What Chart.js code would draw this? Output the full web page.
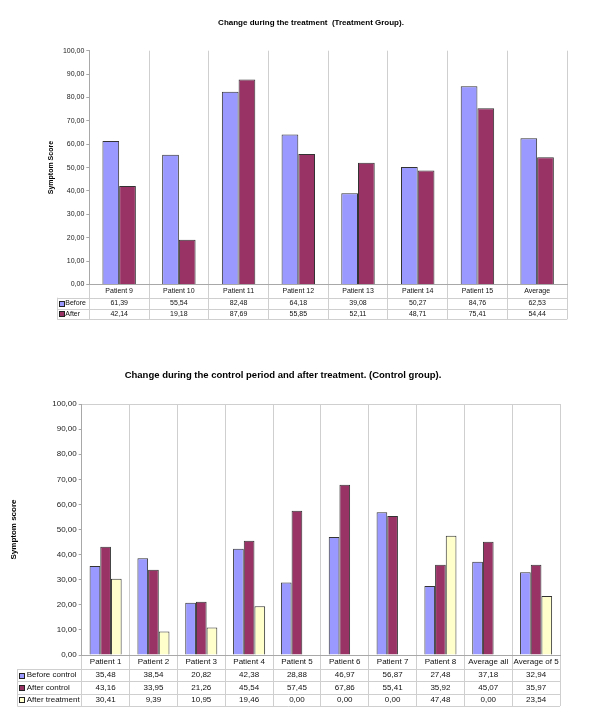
<!DOCTYPE html>
<html>
<head>
<meta charset="utf-8">
<script src="https://cdn.jsdelivr.net/npm/chart.js@4.4.1/dist/chart.umd.min.js"></script>
<style>
  body { margin: 0; background: #fff; }
  #topo { position: absolute; left: 0; top: 0; width: 600px; height: 330px; }
  #baixo { position: absolute; left: 0; top: 330px; width: 600px; height: 389px; }
</style>
</head>
<body>
<div id="topo"><canvas id="grafico-tratamento"></canvas></div>
<div id="baixo"><canvas id="grafico-controle"></canvas></div>
<script>
// dados do grupo de tratamento
const pacientesTratamento = ['Patient 9', 'Patient 10', 'Patient 11', 'Patient 12', 'Patient 13', 'Patient 14', 'Patient 15', 'Average'];
const antes = [61.39, 55.54, 82.48, 64.18, 39.08, 50.27, 84.76, 62.53];
const depois = [42.14, 19.18, 87.69, 55.85, 52.11, 48.71, 75.41, 54.44];

// dados do grupo controle
const pacientesControle = ['Patient 1', 'Patient 2', 'Patient 3', 'Patient 4', 'Patient 5', 'Patient 6', 'Patient 7', 'Patient 8', 'Average all', 'Average of 5'];
const antesControle = [35.48, 38.54, 20.82, 42.38, 28.88, 46.97, 56.87, 27.48, 37.18, 32.94];
const depoisControle = [43.16, 33.95, 21.26, 45.54, 57.45, 67.86, 55.41, 35.92, 45.07, 35.97];
const depoisTratamento = [30.41, 9.39, 10.95, 19.46, 0.00, 0.00, 0.00, 47.48, 0.00, 23.54];

// eixo y
const yMin = 0;
const yMax = 100;
const yPasso = 10;

const fonte = '"Liberation Sans", Arial, Helvetica, sans-serif';
const corLinha = '#cfcfcf';
const corEixo = '#a8a8a8';

function formatar(v) {
    return Number(v).toFixed(2).replace('.', ',');
}

// tabela de dados embaixo do gráfico (estilo Excel)
const tabela = {
    id: 'tabela',
    afterDraw(chart, args, opts) {
        const ctx = chart.ctx;
        const x = chart.scales.x;
        const area = chart.chartArea;
        const linhas = chart.data.datasets.length;
        const base = opts.top + linhas * opts.rowHeight;
        ctx.save();
        ctx.strokeStyle = corLinha;
        ctx.lineWidth = 1;
        for (let r = 0; r <= linhas; r++) {
            const y = Math.round(opts.top + r * opts.rowHeight) + 0.5;
            ctx.beginPath();
            ctx.moveTo(opts.left, y);
            ctx.lineTo(area.right, y);
            ctx.stroke();
        }
        ctx.beginPath();
        ctx.moveTo(Math.round(opts.left) + 0.5, opts.top);
        ctx.lineTo(Math.round(opts.left) + 0.5, base);
        ctx.stroke();

        ctx.font = opts.fontSize + 'px ' + fonte;
        ctx.textBaseline = 'middle';
        chart.data.datasets.forEach((ds, r) => {
            const yc = opts.top + (r + 0.5) * opts.rowHeight;
            const q = opts.keySize;
            const kx = Math.round(opts.left + 2) + 0.5;
            const ky = Math.round(yc - q / 2) + 0.5;
            ctx.fillStyle = ds.backgroundColor;
            ctx.fillRect(kx, ky, q, q);
            ctx.strokeStyle = '#222';
            ctx.strokeRect(kx, ky, q, q);
            ctx.fillStyle = '#111';
            ctx.textAlign = 'left';
            ctx.fillText(ds.label, opts.left + opts.textOffset, yc);
            ctx.textAlign = 'center';
            ds.data.forEach((v, i) => {
                ctx.fillText(formatar(v), x.getPixelForValue(i), yc);
            });
        });
        ctx.restore();
    }
};

const ctxTratamento = document.getElementById('grafico-tratamento').getContext('2d');
const graficoTratamento = new Chart(ctxTratamento, {
    type: 'bar',
    data: {
        labels: pacientesTratamento,
        datasets: [{
            label: 'Before',
            data: antes,
            backgroundColor: '#9999ff',
            borderColor: '#333333',
            borderWidth: 1
        }, {
            label: 'After',
            data: depois,
            backgroundColor: '#993366',
            borderColor: '#333333',
            borderWidth: 1
        }]
    },
    plugins: [tabela],
    options: {
        responsive: true,
        maintainAspectRatio: false,
        animation: false,
        categoryPercentage: 0.56,
        barPercentage: 1,
        layout: { padding: { left: 55, right: 33, top: 0, bottom: 0 } },
        plugins: {
            legend: { display: false },
            tooltip: { enabled: false },
            title: {
                display: true,
                text: 'Change during the treatment  (Treatment Group).',
                color: '#000',
                font: { family: fonte, size: 8, weight: 'bold' },
                padding: { top: 18.2, bottom: 22.9 }
            },
            tabela: { top: 297.7, rowHeight: 10.8, left: 57.3, fontSize: 7, keySize: 5, textOffset: 8 }
        },
        scales: {
            x: {
                offset: true,
                grid: { offset: true, color: corLinha, tickLength: 34.8 },
                border: { color: corEixo },
                ticks: { color: '#111', font: { family: fonte, size: 7 }, padding: -32.8, maxRotation: 0, autoSkip: false },
                afterFit: s => { s.height = 45.5; }
            },
            y: {
                min: yMin,
                max: yMax,
                ticks: { stepSize: yPasso, color: '#222', font: { family: fonte, size: 7 }, padding: 2, callback: v => formatar(v) },
                grid: { drawOnChartArea: false, tickLength: 3, color: corEixo },
                border: { color: corEixo },
                title: {
                    display: true,
                    text: 'Symptom Score',
                    color: '#000',
                    font: { family: fonte, size: 7, weight: 'bold' },
                    padding: { top: -8.5, bottom: 0 }
                },
                afterFit: s => { s.width = 34.3; }
            }
        }
    }
});

const ctxControle = document.getElementById('grafico-controle').getContext('2d');
const graficoControle = new Chart(ctxControle, {
    type: 'bar',
    data: {
        labels: pacientesControle,
        datasets: [{
            label: 'Before control',
            data: antesControle,
            backgroundColor: '#9999ff',
            borderColor: '#333333',
            borderWidth: 1
        }, {
            label: 'After control',
            data: depoisControle,
            backgroundColor: '#993366',
            borderColor: '#333333',
            borderWidth: 1
        }, {
            label: 'After treatment',
            data: depoisTratamento,
            backgroundColor: '#ffffcc',
            borderColor: '#333333',
            borderWidth: 1
        }]
    },
    plugins: [tabela],
    options: {
        responsive: true,
        maintainAspectRatio: false,
        animation: false,
        categoryPercentage: 0.67,
        barPercentage: 1,
        layout: { padding: { left: 6, right: 40, top: 0, bottom: 0 } },
        plugins: {
            legend: { display: false },
            tooltip: { enabled: false },
            title: {
                display: true,
                text: 'Change during the control period and after treatment. (Control group).',
                color: '#000',
                font: { family: fonte, size: 9.5, weight: 'bold' },
                padding: { top: 39.3, bottom: 23.3 }
            },
            tabela: { top: 339, rowHeight: 12.33, left: 17.3, fontSize: 8, keySize: 5, textOffset: 9.4 }
        },
        scales: {
            x: {
                offset: true,
                grid: { offset: true, color: corLinha, tickLength: 51 },
                border: { color: corEixo },
                ticks: { color: '#111', font: { family: fonte, size: 8 }, padding: -48.8, maxRotation: 0, autoSkip: false },
                afterFit: s => { s.height = 64; }
            },
            y: {
                min: yMin,
                max: yMax,
                ticks: { stepSize: yPasso, color: '#222', font: { family: fonte, size: 8 }, padding: 2, callback: v => formatar(v) },
                grid: {
                    drawOnChartArea: true,
                    tickLength: 3,
                    color: c => (c.tick && c.tick.value === yMax) ? corLinha : 'rgba(0,0,0,0)',
                    tickColor: corEixo
                },
                border: { color: corEixo },
                title: {
                    display: true,
                    text: 'Symptom score',
                    color: '#000',
                    font: { family: fonte, size: 8, weight: 'bold' },
                    padding: { top: 3.2, bottom: 0 }
                },
                afterFit: s => { s.width = 75.7; }
            }
        }
    }
});
</script>
</body>
</html>
